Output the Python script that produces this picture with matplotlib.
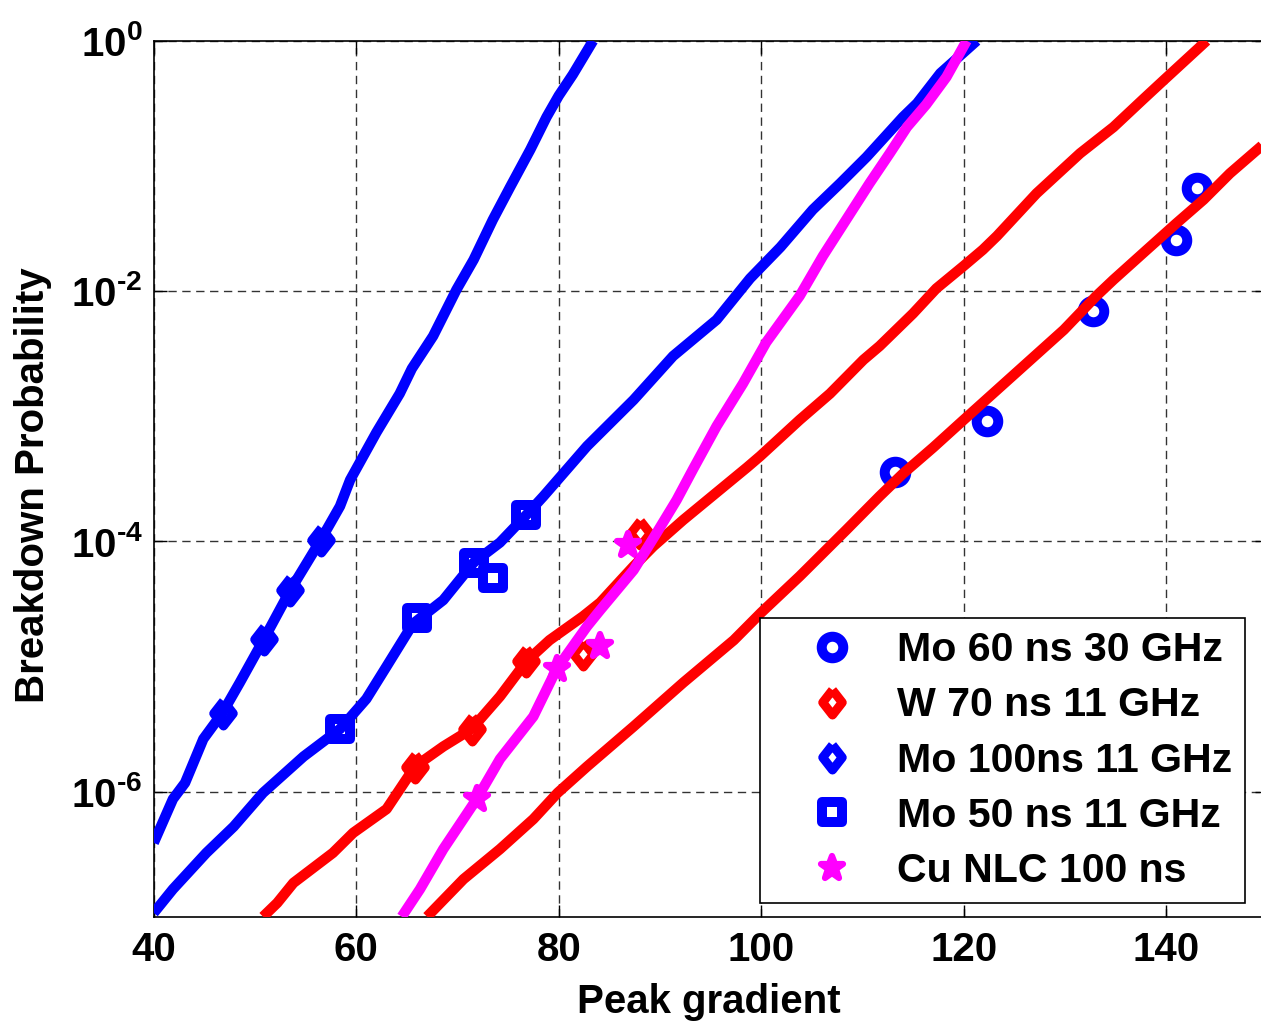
import numpy as np
import matplotlib; matplotlib.use("Agg")
import matplotlib.pyplot as plt
from matplotlib.lines import Line2D
from matplotlib.markers import MarkerStyle

plt.rcParams["font.family"] = ["Liberation Sans", "DejaVu Sans"]
plt.rcParams["font.weight"] = "bold"
plt.rcParams["mathtext.fontset"] = "custom"
plt.rcParams["mathtext.rm"] = "Liberation Sans:bold"
plt.rcParams["mathtext.bf"] = "Liberation Sans:bold"
plt.rcParams["mathtext.default"] = "rm"

# ---- measured points: x = peak gradient, values are log10(probability) ----
mo60_x = [113.2, 122.3, 132.8, 141.0, 143.0]
mo60_lp = [-3.45, -3.04, -2.16, -1.59, -1.18]

w70_x = [65.8, 71.4, 76.8, 82.4, 88.0]
w70_lp = [-5.80, -5.50, -4.96, -4.90, -3.93]

mo100_x = [46.8, 50.9, 53.5, 56.5]
mo100_lp = [-5.37, -4.78, -4.39, -3.99]

mo50_x = [58.4, 66.0, 71.6, 73.5, 76.8]
mo50_lp = [-5.50, -4.61, -4.17, -4.29, -3.79]

cu_x = [71.9, 79.8, 84.1, 86.8]
cu_lp = [-6.06, -5.02, -4.84, -4.03]

# ---- fitted curves ----
fit_mo100_x = [40.0, 41.9, 43.1, 44.9, 46.8, 48.5, 50.9, 53.5, 56.5, 58.4, 59.4, 62.0,
               64.3, 65.5, 67.6, 69.9, 71.6, 73.5, 75.2, 77.2, 78.8, 80.0, 81.4, 83.4]
fit_mo100_lp = [-6.41, -6.06, -5.93, -5.58, -5.37, -5.13, -4.78, -4.39, -3.99, -3.72, -3.51, -3.13,
                -2.82, -2.62, -2.36, -1.99, -1.75, -1.43, -1.17, -0.87, -0.61, -0.44, -0.27, 0.0]

fit_mo50_x = [40.0, 41.9, 45.2, 47.9, 50.8, 54.8, 58.4, 61.0, 63.0, 65.6, 68.6, 71.6,
              74.2, 76.8, 78.5, 82.8, 87.4, 91.3, 95.6, 98.9, 101.9, 105.1, 107.8,
              110.4, 114.0, 115.4, 117.7, 121.3]
fit_mo50_lp = [-6.97, -6.78, -6.49, -6.28, -6.01, -5.72, -5.50, -5.26, -5.00, -4.66, -4.47, -4.17,
               -4.01, -3.79, -3.64, -3.24, -2.87, -2.52, -2.23, -1.90, -1.65, -1.35, -1.14,
               -0.93, -0.61, -0.50, -0.26, 0.0]

fit_cu_x = [64.5, 66.3, 68.6, 71.9, 74.2, 77.5, 79.8, 82.8, 84.1, 87.4, 89.7, 91.65,
            93.3, 95.6, 98.2, 100.5, 103.8, 106.1, 108.4, 110.7, 112.7, 114.4, 116.3,
            118.3, 120.3]
fit_cu_lp = [-7.0, -6.78, -6.46, -6.06, -5.74, -5.40, -5.02, -4.68, -4.55, -4.23, -3.93, -3.67,
             -3.42, -3.08, -2.74, -2.41, -2.04, -1.72, -1.43, -1.14, -0.90, -0.69, -0.51,
             -0.29, 0.0]

fit_w70_x = [50.8, 52.2, 53.8, 57.7, 59.7, 63.0, 65.8, 68.6, 71.4, 74.2, 76.8, 79.1,
             82.4, 84.1, 87.4, 89.35, 92.3, 95.6, 98.6, 99.9, 103.8, 106.8, 110.1,
             111.7, 115.0, 117.3, 120.0, 121.9, 123.3, 127.2, 131.5, 134.8, 137.7,
             139.7, 144.0]
fit_w70_lp = [-7.0, -6.89, -6.73, -6.49, -6.33, -6.14, -5.80, -5.64, -5.50, -5.24, -4.96, -4.79,
              -4.60, -4.49, -4.20, -4.04, -3.83, -3.61, -3.41, -3.32, -3.03, -2.82, -2.55,
              -2.44, -2.18, -1.98, -1.80, -1.67, -1.56, -1.22, -0.90, -0.69, -0.47,
              -0.32, 0.0]

fit_mo60_x = [67.0, 70.6, 74.2, 77.5, 79.9, 82.8, 87.4, 92.3, 97.3, 100.0, 103.8,
              108.4, 111.7, 114.0, 117.0, 120.0, 123.3, 126.6, 129.9, 133.1, 134.8,
              138.1, 141.0, 143.7, 146.3, 149.3, 150.0]
fit_mo60_lp = [-7.0, -6.70, -6.46, -6.22, -6.01, -5.80, -5.48, -5.13, -4.79, -4.57, -4.28,
               -3.91, -3.64, -3.46, -3.25, -3.03, -2.79, -2.55, -2.31, -2.04, -1.91,
               -1.67, -1.46, -1.27, -1.06, -0.85, -0.80]

legend_labels = ["Mo 60 ns 30 GHz", "W 70 ns 11 GHz", "Mo 100ns 11 GHz",
                 "Mo 50 ns 11 GHz", "Cu NLC 100 ns"]

BLUE = (0, 0, 1); RED = (1, 0, 0); MAG = (1, 0, 1)
FS = 29

def p(lp): return 10.0 ** np.asarray(lp)

def mk(m): return MarkerStyle(m, joinstyle="round")

DIAMOND = [(0, 1), (0.78, 0), (0, -1), (-0.78, 0), (0, 1)]

W, H = 1261, 1029
fig = plt.figure(figsize=(W / 100, H / 100), dpi=100)
ax = fig.add_axes([153.7 / W, 1 - 916.7 / H, (1267.4 - 153.7) / W, 876.0 / H])

styles = [
    dict(marker=mk("o"), ms=15.5, mew=7.2, mfc="white", mec=BLUE),
    dict(marker=mk(DIAMOND), ms=18, mew=6.5, mfc="white", mec=RED),
    dict(marker=mk(DIAMOND), ms=18, mew=6.5, mfc="white", mec=BLUE),
    dict(marker=mk("s"), ms=14.4, mew=7.2, mfc="white", mec=BLUE),
    dict(marker=mk("*"), ms=17, mew=4.5, mfc=MAG, mec=MAG),
]
series = [(mo60_x, mo60_lp), (w70_x, w70_lp), (mo100_x, mo100_lp),
          (mo50_x, mo50_lp), (cu_x, cu_lp)]

for (xs, lps), st in zip(series, styles):
    ax.plot(xs, p(lps), ls="none", zorder=3, **st)

lw = 7.5
for xs, lps, c in [(fit_mo100_x, fit_mo100_lp, BLUE), (fit_mo50_x, fit_mo50_lp, BLUE),
                   (fit_w70_x, fit_w70_lp, RED), (fit_mo60_x, fit_mo60_lp, RED),
                   (fit_cu_x, fit_cu_lp, MAG)]:
    ax.plot(xs, p(lps), color=c, lw=lw, solid_capstyle="butt",
            solid_joinstyle="round", zorder=4)

ax.set_yscale("log")
ax.set_xlim(40, 150)
ax.set_ylim(1e-7, 1)
ax.set_xticks([40, 60, 80, 100, 120, 140])
ax.set_xticklabels(["40", "60", "80", "100", "120", "140"])
ax.set_yticks([1e-6, 1e-4, 1e-2, 1e0])
ax.set_yticklabels([r"$10^{\text{-6}}$", r"$10^{\text{-4}}$",
                    r"$10^{\text{-2}}$", r"$10^{\text{0}}$"])
ax.minorticks_off()
ax.tick_params(direction="in", length=9, width=1, top=True, right=True,
               labelsize=FS, pad=10)
ax.tick_params(axis="y", pad=8)
for t in ax.get_xticklabels() + ax.get_yticklabels():
    t.set_fontweight("bold")
ax.grid(True, which="major", color="0.2", lw=1.0, ls=(0, (6, 4)))
for s in ax.spines.values():
    s.set_linewidth(1.2)

ax.set_xlabel("Peak gradient", fontsize=FS, fontweight="bold")
ax.set_ylabel("Breakdown Probability", fontsize=FS, fontweight="bold")
ax.xaxis.set_label_coords(0.4986, -0.076)
ax.yaxis.set_label_coords(-0.0913, 0.493)

handles = [Line2D([], [], ls="none", **st) for st in styles]
leg = ax.legend(handles, legend_labels, loc="lower right",
                bbox_to_anchor=(0.980, 0.0153), borderaxespad=0,
                prop=dict(weight="bold", size=29.6),
                fancybox=False, framealpha=1, edgecolor="black",
                borderpad=0.32, labelspacing=0.42, handlelength=2.9,
                handletextpad=0.12, numpoints=1)
leg.get_frame().set_linewidth(1.2)
leg.set_zorder(10)

fig.savefig("out.png", dpi=100, facecolor="white")
